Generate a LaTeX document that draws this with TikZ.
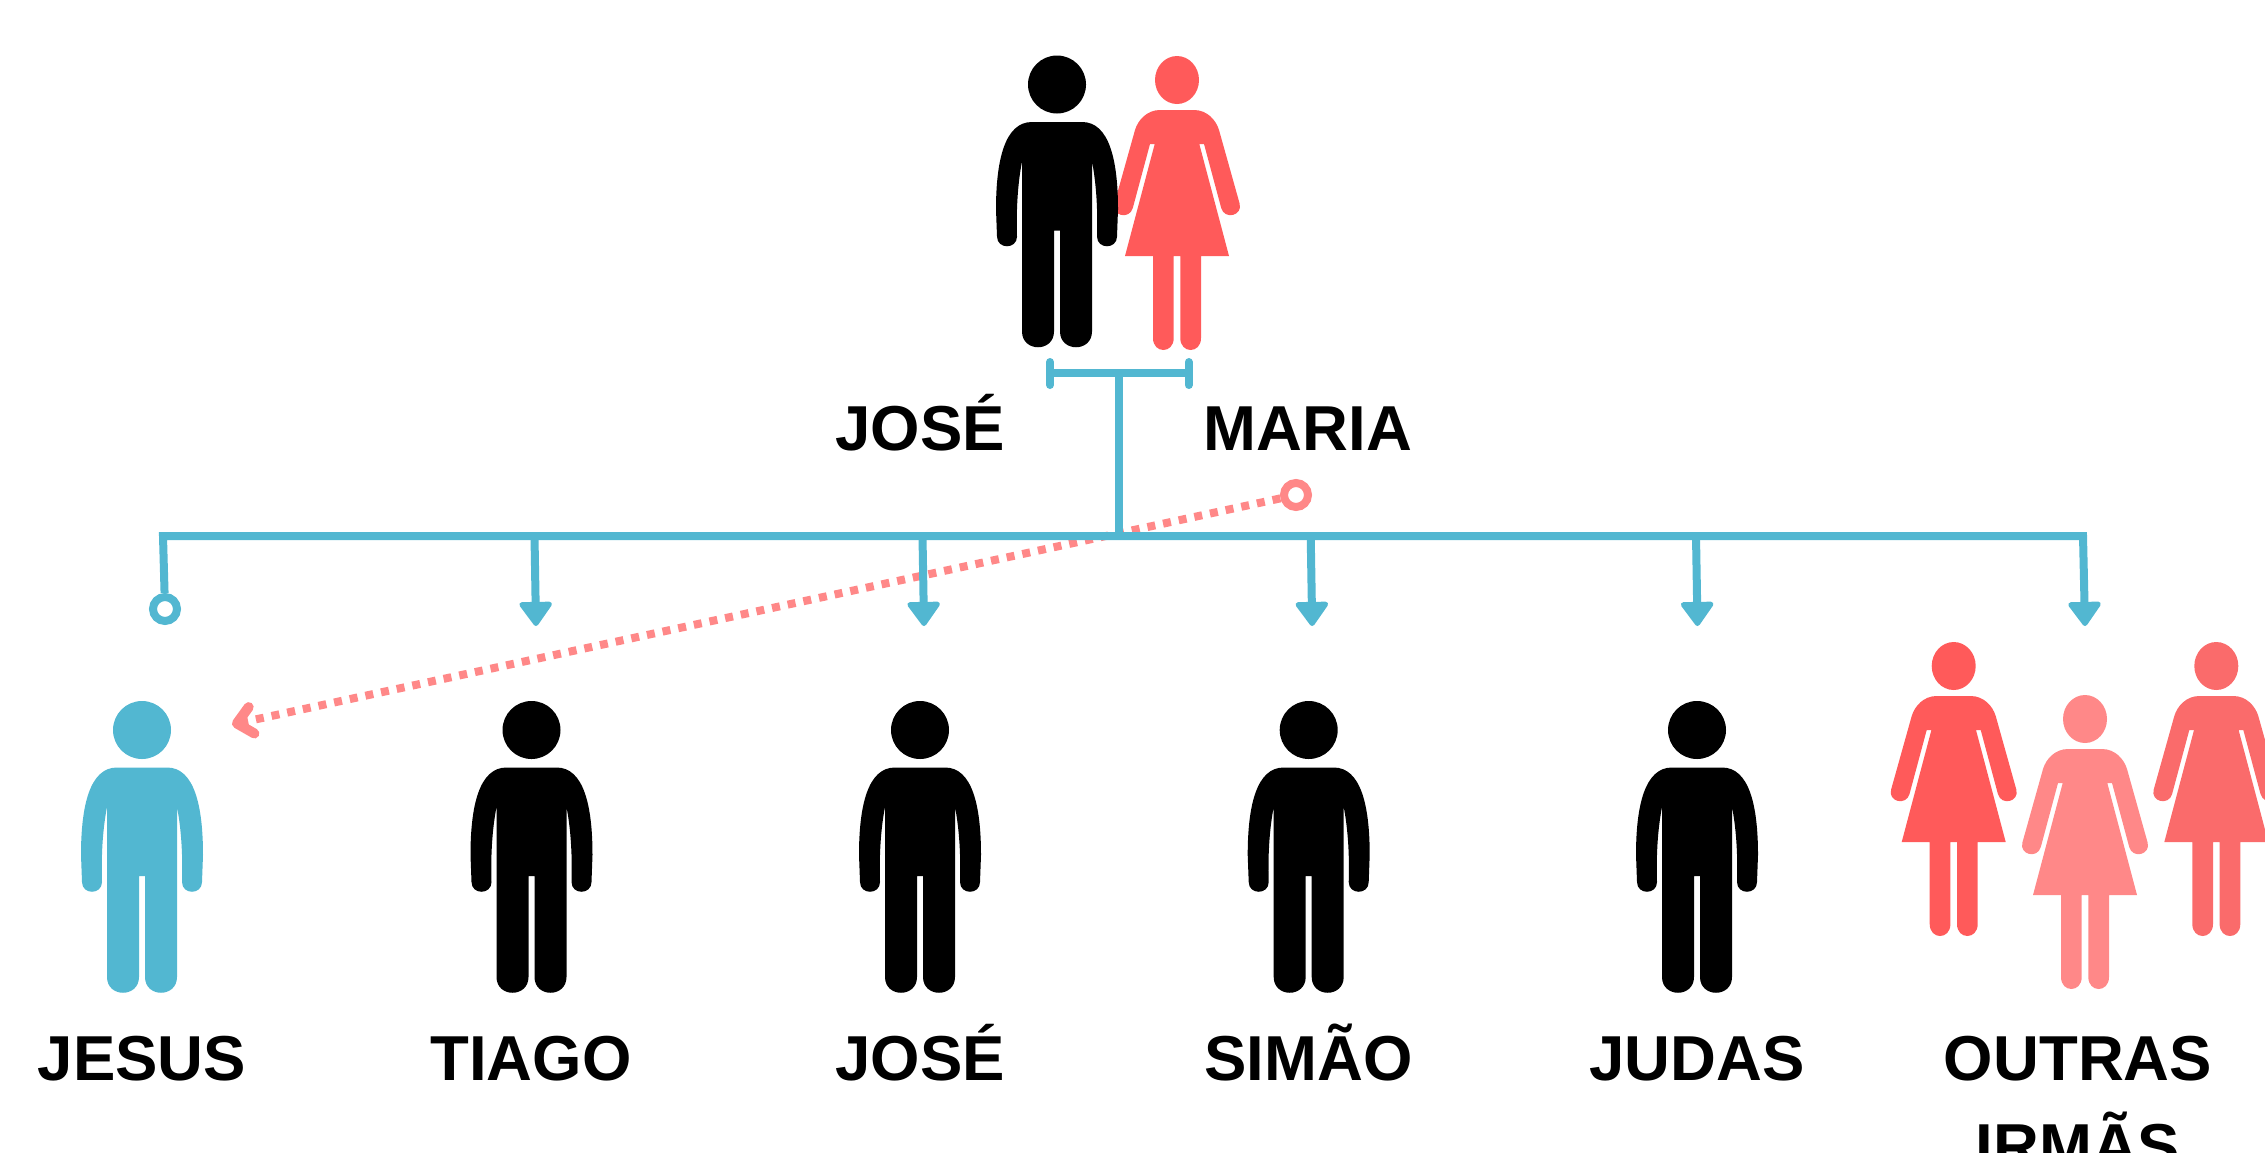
\documentclass[tikz,border=0pt]{standalone}
\usepackage{fontspec}
\setmainfont{Liberation Sans}
\usetikzlibrary{arrows.meta}
\definecolor{linkblue}{HTML}{52B7D1}
\definecolor{redA}{HTML}{FF5A5A}
\definecolor{redB}{HTML}{FF8888}
\definecolor{redC}{HTML}{FA6B6B}
\tikzset{
  manfig/.pic={
    \path[pic actions] (0,0) circle (29pt);
    \path[pic actions] (-25,37.5) -- (25,37.5) .. controls (52,37.5) and (61,75) .. (61,125)
      -- (60,152) .. controls (60,165) and (40,165) .. (40,152)
      .. controls (41,120) and (38.5,95) .. (35,77) -- (35,247)
      .. controls (35,268) and (3,268) .. (3,247) -- (3,146) -- (-3,146) -- (-3,247)
      .. controls (-3,268) and (-35,268) .. (-35,247) -- (-35,77)
      .. controls (-38.5,95) and (-41,120) .. (-40,152)
      .. controls (-40,165) and (-60,165) .. (-60,152) -- (-61,125)
      .. controls (-61,75) and (-52,37.5) .. (-25,37.5) -- cycle;
  },
  womanfig/.pic={
    \path[pic actions] (0,0) ellipse (22pt and 24pt);
    \path[pic actions] (-17,30) -- (17,30) .. controls (30,30) and (39,40) .. (42,50)
      -- (62.6,123.5) .. controls (66,135.7) and (47.6,140.2) .. (44.2,128) -- (27,64) -- (22.3,64)
      -- (52,176) -- (24,176) -- (24,258) .. controls (24,274) and (3.3,274) .. (3.3,258)
      -- (3.3,176) -- (-3.3,176) -- (-3.3,258) .. controls (-3.3,274) and (-24,274) .. (-24,258)
      -- (-24,176) -- (-52,176) -- (-22.3,64) -- (-27,64) -- (-44.2,128)
      .. controls (-47.6,140.2) and (-66,135.7) .. (-62.6,123.5) -- (-42,50)
      .. controls (-39,40) and (-30,30) .. (-17,30) -- cycle;
  },
  namelabel/.style={anchor=base, align=center, font=\fontsize{63.5}{88}\selectfont\bfseries},
  bluelink/.style={draw=linkblue, line width=8pt},
  droptip/.style={-{Triangle[length=26pt,width=36pt,line width=5pt,round]}},
  endring/.style={circle, draw=#1, fill=white, line width=8pt, minimum size=24pt, inner sep=0pt},
}
\begin{document}
\begin{tikzpicture}[x=1pt,y=-1pt]
    \useasboundingbox (0,0) rectangle (2265,1152);

    \pic[fill=redA] at (1177,80) {womanfig};
    \pic[fill=black] at (1057,84.5) {manfig};
    \pic[fill=linkblue] at (142,730) {manfig};
    \foreach \px in {531.5,920,1308.7,1697}
        \pic[fill=black] at (\px,730) {manfig};
    \pic[fill=redA] at (1953.7,666) {womanfig};
    \pic[fill=redC] at (2216.3,666) {womanfig};
    \pic[fill=redB] at (2085,719) {womanfig};

    \node[namelabel] (lblJose) at (920,450) {JOSÉ};
    \node[namelabel] (lblMaria) at (1308,450) {MARIA};
    \node[namelabel] (lblJesus) at (142,1080) {JESUS};
    \node[namelabel] (lblTiago) at (531,1080) {TIAGO};
    \node[namelabel] (lblJoseB) at (920,1080) {JOSÉ};
    \node[namelabel] (lblSimao) at (1308.7,1080) {SIMÃO};
    \node[namelabel] (lblJudas) at (1697,1080) {JUDAS};
    \node[namelabel] (lblOutras) at (2078,1080) {OUTRAS};
    \node[namelabel] (lblIrmas) at (2078,1168) {IRMÃS};

    % pink arrow goes under the blue bus
    \coordinate (arrowEnd) at (232,724.5);
    \node[endring=redB] (ringPink) at (1296,495) {};
    \draw[draw=redB, line width=8pt, dash pattern=on 8pt off 8pt,
        -{Straight Barb[length=15pt,width=27pt,line width=10pt,round]}] (ringPink) -- (arrowEnd);

    \coordinate (barL) at (1050,373);
    \coordinate (barR) at (1188.7,373);
    \coordinate (barLa) at (1050,362);
    \coordinate (barLb) at (1050,385);
    \coordinate (barRa) at (1188.7,362);
    \coordinate (barRb) at (1188.7,385);
    \coordinate (barMid) at (1119.3,373);
    \coordinate (busMid) at (1119.3,536);
    \coordinate (busL) at (163,536);
    \coordinate (busR) at (2083,536);
    \coordinate (tipSis) at (2085,626);
    \node[endring=linkblue] (ringJesus) at (165,609) {};

    \draw[bluelink] (barL) -- (barR);
    \draw[bluelink, line cap=round] (barLa) -- (barLb);
    \draw[bluelink, line cap=round] (barRa) -- (barRb);
    \draw[bluelink] (barMid) -- (busMid);
    \draw[bluelink, droptip] (ringJesus) -- (busL) -- (busR) -- (tipSis);
    \foreach \dx [count=\n] in {534.5,922.5,1310.7,1696}{
        \coordinate (busT\n) at (\dx,536);
        \coordinate (tipT\n) at (\dx+1.5,626);
        \draw[bluelink, droptip] (busT\n) -- (tipT\n);
    }
\end{tikzpicture}
\end{document}
